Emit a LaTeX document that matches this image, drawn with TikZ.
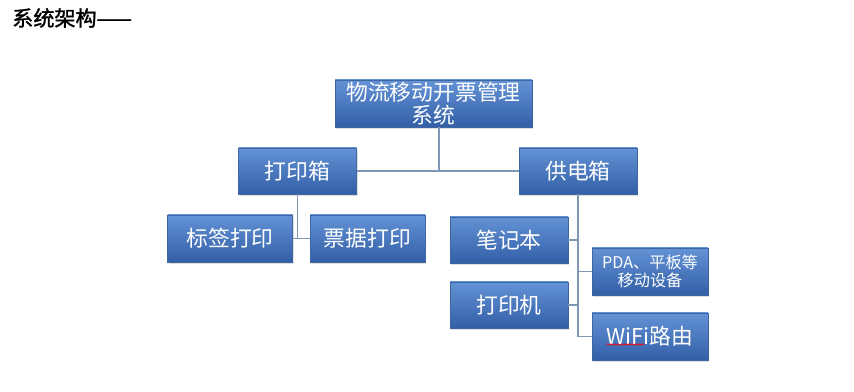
\documentclass[tikz,border=0pt]{standalone}
\usepackage{fontspec}
\setmainfont{Noto Sans CJK SC}
\newfontfamily\titlefont[FakeBold=1.5]{Noto Sans CJK SC}
\usetikzlibrary{shadows,decorations.pathmorphing}
\definecolor{boxtop}{RGB}{100,146,214}
\definecolor{boxbot}{RGB}{50,95,166}
\definecolor{boxline}{RGB}{62,102,160}
\definecolor{linkgray}{RGB}{128,150,182}

\begin{document}
\begin{tikzpicture}[x=0.025cm,y=-0.025cm,
  unit/.style={draw=boxline,line width=0.6pt,top color=boxtop,bottom color=boxbot,
    text=white,font=\fontsize{15.5}{16.5}\selectfont,align=center,inner sep=0pt,
    minimum height=46*0.025cm,
    drop shadow={opacity=0.25,shadow xshift=1pt,shadow yshift=-1.5pt}},
  smallunit/.style={unit,font=\fontsize{11.5}{12.5}\selectfont},
  link/.style={draw=linkgray,line width=1.4pt}]
\useasboundingbox (0,0) rectangle (854,392);
\node[anchor=west,inner sep=0pt,font=\titlefont\fontsize{15}{16}\selectfont] (title) at (12,18) {系统架构——};
\node[unit,minimum width=197*0.025cm,minimum height=47*0.025cm] (root) at (433.5,103.5) {物流移动开票管理\\系统};
\node[unit,minimum width=118*0.025cm] (dyx) at (297.5,171) {打印箱};
\node[unit,minimum width=118*0.025cm] (gdx) at (578,171) {供电箱};
\node[unit,minimum width=125*0.025cm,minimum height=47*0.025cm] (bqdy) at (230,238.5) {标签打印};
\node[unit,minimum width=115*0.025cm,minimum height=47*0.025cm] (pjdy) at (367.5,238.5) {票据打印};
\node[unit,minimum width=118*0.025cm] (bjb) at (509,240) {笔记本};
\node[unit,minimum width=118*0.025cm] (dyj) at (509,305) {打印机};
\node[smallunit,minimum width=116*0.025cm,minimum height=47*0.025cm] (pda) at (650,271.5) {PDA、平板等\\移动设备};
\node[unit,minimum width=116*0.025cm,minimum height=47*0.025cm] (wifi) at (650,336.5) {WiFi路由};
\coordinate (hub) at (439,171);
\draw[link] (root.south -| hub) -- (hub);
\draw[link] (dyx.east) -- (gdx.west);
\draw[link] (dyx.south) -- (dyx.south |- bqdy.east);
\draw[link] (bqdy.east) -- (pjdy.west);
\draw[link] (gdx.south) -- (gdx.south |- wifi.west) -- (wifi.west);
\draw[link] (bjb.east) -- (bjb.east -| gdx.south);
\draw[link] (dyj.east) -- (dyj.east -| gdx.south);
\draw[link] (pda.west) -- (pda.west -| gdx.south);
\draw[red,line width=0.5pt,decorate,decoration={snake,amplitude=0.5pt,segment length=2.5pt}]
  ([xshift=0.37cm,yshift=-0.2cm]wifi.west) -- ([xshift=1.32cm,yshift=-0.2cm]wifi.west);
\end{tikzpicture}
\end{document}
